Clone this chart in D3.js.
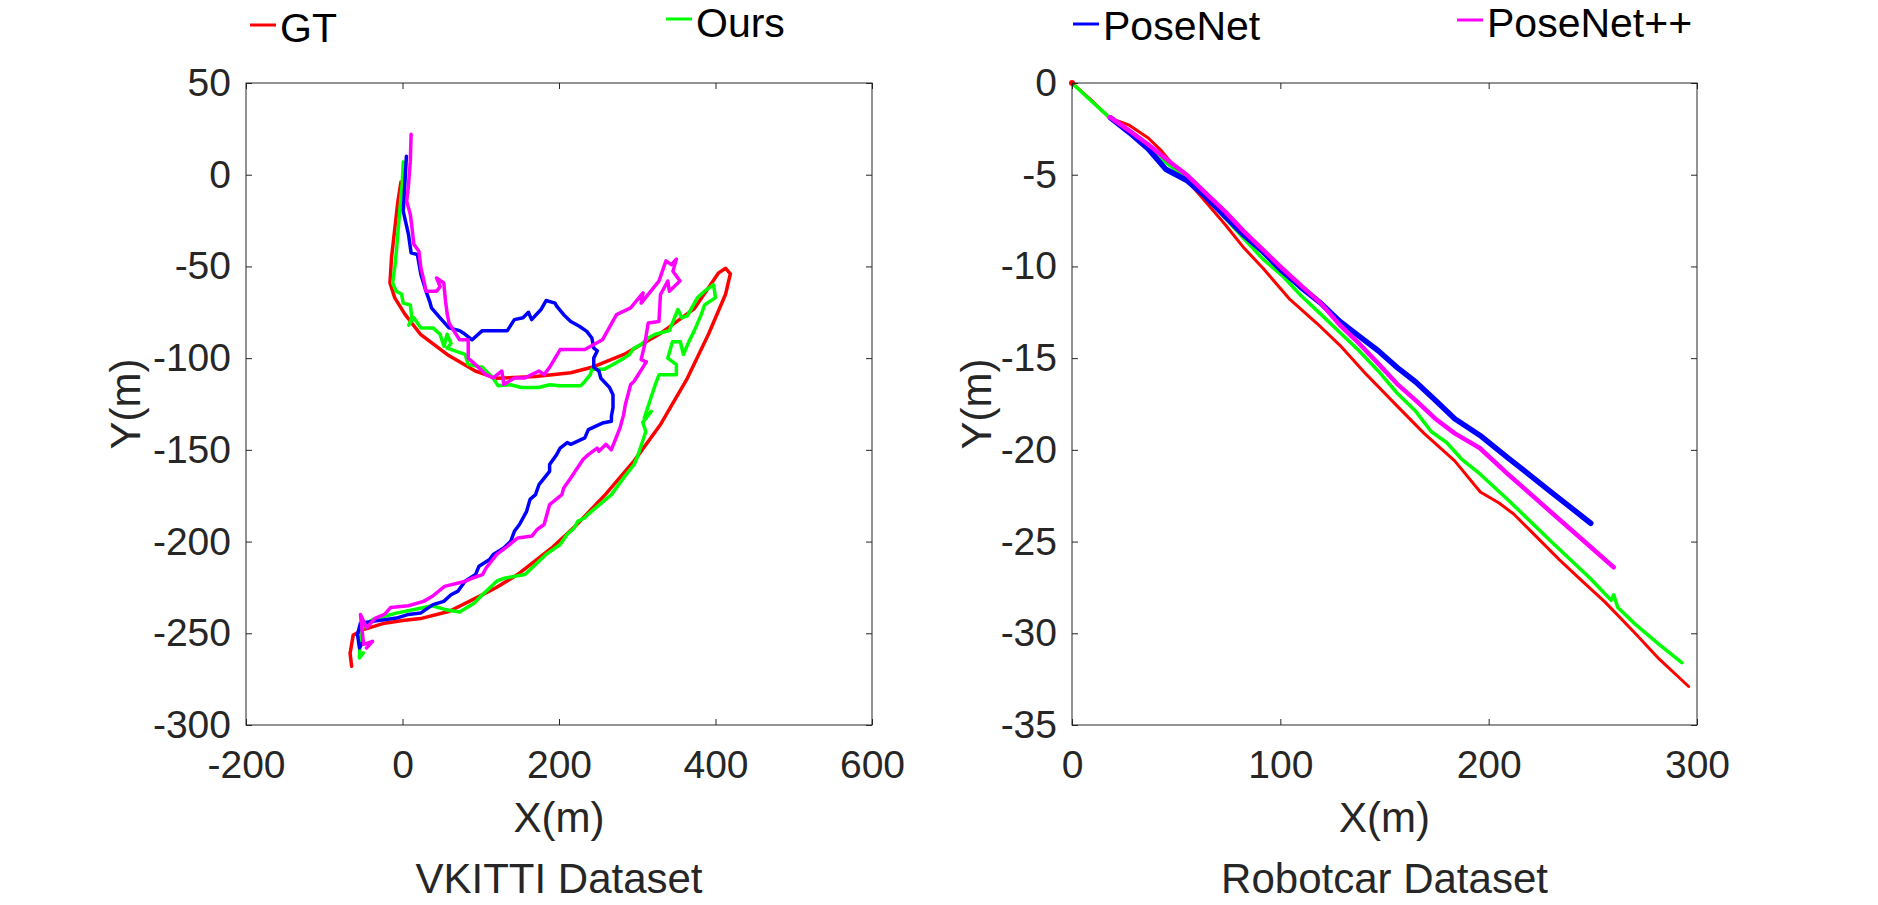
<!DOCTYPE html>
<html>
<head>
<meta charset="utf-8">
<script src="https://cdn.jsdelivr.net/npm/d3@7"></script>
<style>
  html, body { margin: 0; padding: 0; background: #fff; }
  svg { display: block; font-family: "Liberation Sans", Arial, sans-serif; }
</style>
</head>
<body>
<svg width="1878" height="905"></svg>
<script>
// ---- data ----
var seriesNames = ["GT", "Ours", "PoseNet", "PoseNet++"];
var seriesColors = ["#ff0000", "#00ff00", "#0000ff", "#ff00ff"];

// VKITTI trajectories [x, y] in metres
var vkGT = [[-65,-268],[-67,-261],[-63,-251],[-50,-248],[-23,-244.5],[0,-243],[23,-242],[60,-238],[93,-231],[120,-225],[147,-218],[192,-203],[220,-192],[260,-174],[296,-156],[330,-136],[364,-111],[391,-87],[413,-65],[419,-54],[413,-51],[404,-53.5],[373,-73],[328,-87],[283,-98],[242,-105],[215,-108],[170,-110],[120,-111],[93,-107],[57,-98],[23,-87],[3,-76],[-10,-67],[-16,-59],[-14,-45],[-10,-30],[-6,-15],[-2,-4]];
var vkOurs = [[1,7],[-0.4,-5],[-3.6,-20],[-6.7,-36],[-9.4,-49],[-12.6,-59],[-8,-63.5],[-1.3,-65],[1,-70],[10,-71],[12,-78],[8,-82],[14.5,-78],[23.5,-83.5],[39,-83.5],[48,-87],[53,-93.5],[57,-87],[62,-92],[57,-94.5],[80,-98],[84,-103.5],[102,-105],[116,-111],[122,-115],[138,-114.5],[152,-116],[174,-116],[188,-114.5],[201,-115],[228,-115],[233,-112.7],[240,-109],[242,-106],[258,-106],[269,-103.5],[283,-100],[290,-98],[296,-94.5],[305,-92.6],[314,-89],[323,-87],[341,-85],[352,-73.5],[357,-78],[364,-77],[377,-67],[386,-63.5],[397.5,-60],[400,-67],[386,-71],[382,-76],[373,-85],[366,-91],[359,-98],[355,-91],[345,-91],[339,-100],[350,-103.5],[350,-109],[328,-109],[323,-114.5],[309,-132.6],[318,-129],[307,-135],[311,-140],[300,-154],[296,-158],[283,-165],[267,-174.4],[237.5,-185],[233,-187],[224,-189],[219.5,-192.6],[210.5,-196],[201.5,-201.6],[183.5,-207],[156.5,-218],[129.5,-220],[120.4,-221.6],[98,-230.7],[92,-233.5],[73,-238.4],[54,-237],[38,-235],[15,-237],[-8,-239],[-23,-240.7],[-38,-242.4],[-50,-246],[-54,-253],[-55,-263.5],[-50,-260.7]];
var vkPoseNet = [[5,10],[3,-5],[1,-20],[7.7,-32.7],[11,-42.6],[19,-43.5],[23.5,-54.4],[30,-63.5],[34.7,-69],[37,-72.6],[48,-78],[59.5,-83.5],[73,-85],[80,-87],[89,-90],[102,-85],[116,-85],[134,-85],[143,-79],[154,-78],[161,-75],[165,-79],[177,-73.5],[183.5,-68.6],[195,-70],[197,-71.7],[206,-76.3],[215,-80],[226,-82.6],[235.5,-85.4],[242,-89],[244.4,-94.5],[249,-96],[244.4,-100],[244.4,-105],[251,-107],[253.5,-111],[264.6,-116],[269,-120],[269,-127],[267,-131.7],[267,-134.4],[255.5,-135.4],[237.5,-139],[233,-143.5],[215,-147],[210.5,-146],[201.5,-149],[197,-152.6],[188,-158],[188,-161.7],[174.4,-169],[170,-174.4],[163,-177],[158.6,-183.5],[149.5,-190.7],[143,-194.4],[138.4,-199.8],[129.4,-203.5],[116,-207],[111.3,-209.8],[97.8,-213.4],[93.3,-218],[80,-221.6],[71,-227],[62,-229],[52.7,-232.6],[39,-234.4],[23,-239],[7.7,-239.7],[-7.7,-241.7],[-38,-243.5],[-53.7,-244.4],[-57.5,-250.6],[-55,-258],[-50,-254.4]];
var vkPoseNetPP = [[11,22],[10,7.4],[7.7,-5.4],[5.4,-14.5],[10,-21.7],[12.2,-29],[14.5,-38],[21,-41.7],[23.5,-50.8],[28,-59],[30,-63.5],[43.6,-63.5],[48,-61],[43.6,-56.3],[52.7,-59],[55,-69],[57.3,-76.3],[59.5,-80.8],[66,-85.4],[73,-90],[84,-90],[84,-100],[93.3,-103.5],[106.8,-109],[116,-110.8],[127,-107],[129.5,-114.4],[143,-110.8],[156.5,-110.8],[165,-109],[174.4,-107],[181,-109],[188,-105],[201.5,-95.3],[233,-95.3],[255.5,-90],[273.5,-76.3],[291.6,-72.6],[307.4,-64.4],[305,-70],[327.7,-58],[336.7,-47],[343.5,-49],[350,-46],[345.6,-52.6],[354.6,-58],[341,-63.5],[339,-58],[329.7,-65.3],[327.7,-80],[314,-80.8],[309.5,-92.6],[305,-100.8],[311.6,-102],[296,-112.6],[291.6,-114.4],[284.8,-125.3],[282.6,-130.8],[278,-138],[266.8,-150],[260,-147],[251,-150.8],[248.7,-149],[237.5,-152.6],[230.7,-155.3],[215,-165.3],[206,-170.8],[203.7,-174.4],[188,-179.8],[181,-190.7],[172,-193.4],[165.4,-197],[147.4,-198],[134,-202.6],[120.4,-207],[106.8,-214.4],[102.3,-218],[88.8,-220],[80.5,-221.6],[53.7,-224.4],[38.3,-229.8],[26.8,-232.6],[7.7,-235],[-15.3,-236],[-23,-239.7],[-34.5,-241.7],[-46,-247],[-53.7,-239.8],[-49.8,-256],[-38.3,-254.4],[-46,-258]];

// Robotcar trajectories [x, y] in metres
var rcGT = [[0,0],[9,-0.9],[18,-1.9],[27.5,-2.3],[36.6,-3.0],[43,-3.7],[49.5,-4.6],[60.5,-6.0],[73.4,-7.7],[82.6,-9.0],[91.7,-10.1],[104.6,-11.8],[119.4,-13.3],[128.6,-14.3],[141.4,-15.9],[156,-17.6],[169,-19.1],[183.7,-20.6],[196,-22.3],[205,-22.9],[212,-23.5],[220,-24.4],[234,-26.0],[244.4,-27.1],[255.9,-28.3],[270.3,-30.0],[281.8,-31.4],[296,-32.9]];
var rcOurs = [[0,0],[9,-0.95],[18.2,-1.9],[27.5,-2.7],[36.4,-3.6],[45.8,-4.4],[55,-5.2],[64.2,-6.1],[73.4,-7.35],[82.6,-8.5],[91.7,-9.6],[100.9,-10.5],[110,-11.6],[119.4,-12.6],[128.6,-13.6],[137.8,-14.6],[147,-15.7],[156,-16.9],[165,-17.9],[172.4,-19.0],[179.8,-19.6],[187,-20.5],[195.7,-21.3],[210,-22.8],[230,-25.0],[248.7,-27.0],[258.8,-28.2],[260,-27.9],[262,-28.6],[270.3,-29.5],[281.8,-30.6],[292.7,-31.6]];
var rcPoseNet = [[18.5,-1.9],[27.5,-2.7],[36.6,-3.6],[45,-4.7],[55,-5.3],[64.2,-6.2],[73.4,-7.25],[82.6,-8.3],[91.7,-9.2],[100.9,-10.25],[110,-11.15],[119.4,-12.0],[128.6,-13.0],[137.8,-13.8],[147,-14.6],[156,-15.5],[165,-16.3],[174.4,-17.3],[183.7,-18.3],[195.7,-19.2],[210,-20.5],[230,-22.3],[249,-24.0]];
var rcPoseNetPP = [[18.2,-1.86],[27.5,-2.6],[36.6,-3.35],[45.8,-4.2],[55,-5.0],[64.2,-6.0],[73.4,-7.0],[82.6,-8.1],[91.7,-9.1],[100.9,-10.1],[110,-11.05],[119.4,-12.0],[128.6,-13.2],[137.8,-14.2],[147,-15.3],[156,-16.4],[165,-17.3],[174.4,-18.3],[183.7,-19.1],[195.7,-19.9],[210,-21.4],[230,-23.4],[245,-24.9],[260,-26.4]];

// ticks
var vkXTicks = [-200, 0, 200, 400, 600];
var vkYTicks = [-300, -250, -200, -150, -100, -50, 0, 50];
var rcXTicks = [0, 100, 200, 300];
var rcYTicks = [-35, -30, -25, -20, -15, -10, -5, 0];

var svg = d3.select("svg");
var axisColor = "#262626";
var plainNum = function(d) { return String(d); };   // keeps the ASCII hyphen as minus

function panel(opt) {
  var x = d3.scaleLinear().domain(opt.xDomain).range([opt.left, opt.right]);
  var y = d3.scaleLinear().domain(opt.yDomain).range([opt.bottom, opt.top]);
  var g = svg.append("g");

  // lines
  var line = d3.line().x(function(d) { return x(d[0]); }).y(function(d) { return y(d[1]); });
  opt.series.forEach(function(s, i) {
    g.append("path")
      .datum(s)
      .attr("d", line)
      .attr("fill", "none")
      .attr("stroke", seriesColors[i])
      .attr("stroke-width", opt.widths[i])
      .attr("stroke-linejoin", "round")
      .attr("stroke-linecap", "round");
  });
  if (opt.startDot) {
    g.append("circle").attr("cx", x(0)).attr("cy", y(0)).attr("r", 3).attr("fill", "#ff0000");
  }

  // axes, ticks point inward and repeat on the top and right
  var ax = g.append("g").attr("transform", "translate(0," + opt.bottom + ")")
    .call(d3.axisBottom(x).tickValues(opt.xTicks).tickFormat(plainNum).tickSize(-6).tickSizeOuter(0).tickPadding(25));
  var ay = g.append("g").attr("transform", "translate(" + opt.left + ",0)")
    .call(d3.axisLeft(y).tickValues(opt.yTicks).tickFormat(plainNum).tickSize(-6).tickSizeOuter(0).tickPadding(15));
  var at = g.append("g").attr("transform", "translate(0," + opt.top + ")")
    .call(d3.axisTop(x).tickValues(opt.xTicks).tickSize(-6).tickSizeOuter(0).tickFormat(""));
  var ar = g.append("g").attr("transform", "translate(" + opt.right + ",0)")
    .call(d3.axisRight(y).tickValues(opt.yTicks).tickSize(-6).tickSizeOuter(0).tickFormat(""));
  [ax, ay, at, ar].forEach(function(a) {
    a.select(".domain").remove();
    a.selectAll(".tick line").attr("stroke", axisColor).attr("stroke-width", 1);
    a.selectAll(".tick text").attr("fill", axisColor).style("font-size", "39px")
      .style("font-family", "'Liberation Sans', Arial, sans-serif");
  });

  g.append("rect")
    .attr("x", opt.left).attr("y", opt.top)
    .attr("width", opt.right - opt.left).attr("height", opt.bottom - opt.top)
    .attr("fill", "none").attr("stroke", axisColor).attr("stroke-width", 1);

  var cx = (opt.left + opt.right) / 2;
  g.append("text").attr("x", cx).attr("y", 832).attr("text-anchor", "middle")
    .attr("fill", axisColor).style("font-size", "42px").text("X(m)");
  g.append("text")
    .attr("transform", "translate(" + opt.yLabelX + "," + ((opt.top + opt.bottom) / 2) + ") rotate(-90)")
    .attr("text-anchor", "middle").attr("fill", axisColor).style("font-size", "42px").text("Y(m)");
  g.append("text").attr("x", cx).attr("y", 893).attr("text-anchor", "middle")
    .attr("fill", axisColor).style("font-size", "42px").text(opt.title);
}

panel({
  left: 246, right: 872, top: 83, bottom: 725,
  xDomain: [-200, 600], yDomain: [-300, 50],
  xTicks: vkXTicks, yTicks: vkYTicks,
  series: [vkGT, vkOurs, vkPoseNet, vkPoseNetPP],
  widths: [3.5, 3.5, 3.5, 3.5],
  yLabelX: 140, title: "VKITTI Dataset"
});

panel({
  left: 1072, right: 1697, top: 83, bottom: 725,
  xDomain: [0, 300], yDomain: [-35, 0],
  xTicks: rcXTicks, yTicks: rcYTicks,
  series: [rcGT, rcOurs, rcPoseNet, rcPoseNetPP],
  widths: [3, 3.5, 5.5, 4.5],
  yLabelX: 991, title: "Robotcar Dataset", startDot: true
});

// legend across the top
var legendPos = [[250, 25, 42], [666, 19, 37], [1073, 24, 40], [1457, 20, 37]];
var leg = svg.append("g");
seriesNames.forEach(function(name, i) {
  var p = legendPos[i];
  leg.append("line").attr("x1", p[0]).attr("x2", p[0] + 26).attr("y1", p[1]).attr("y2", p[1])
    .attr("stroke", seriesColors[i]).attr("stroke-width", 3);
  leg.append("text").attr("x", p[0] + 30).attr("y", p[2]).attr("fill", "#000")
    .style("font-size", "41px").text(name);
});
</script>
</body>
</html>
